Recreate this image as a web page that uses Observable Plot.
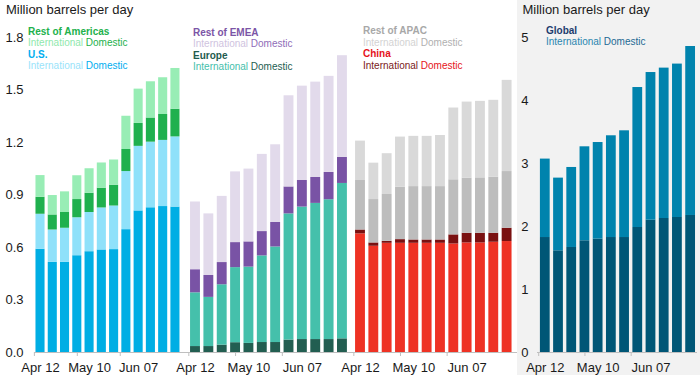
<!DOCTYPE html>
<html>
<head>
<meta charset="utf-8">
<script src="https://cdn.jsdelivr.net/npm/d3@7"></script>
<script src="https://cdn.jsdelivr.net/npm/@observablehq/plot@0.6"></script>
<style>
  body { margin: 0; background: #fff; }
  #chart { position: relative; width: 700px; height: 375px; overflow: hidden; background: #fff;
           font-family: "Liberation Sans", Arial, sans-serif; }
  .bg { position: absolute; left: 517px; top: 0; width: 183px; height: 375px; background: #f2f2f2; }
  .panel { position: absolute; top: 0; overflow: visible !important; }
  .ttl { position: absolute; font-size: 13px; line-height: 13px; color: #1a1a1a; white-space: nowrap; }
  .leg { position: absolute; font-size: 10px; line-height: 11.5px; white-space: nowrap; }
  .leg b { font-weight: bold; }
</style>
</head>
<body>
<div id="chart">
  <div class="bg"></div>
</div>
<script>
// ---- Data (million barrels per day) ----
const weekLabels = ["Apr 12","Apr 19","Apr 26","May 03","May 10","May 17","May 24","May 31","Jun 07","Jun 14","Jun 21","Jun 28"];
const labelIdx = [0, 4, 8];
const tickIdx = [-0.5, 3, 6.5];

const usDomestic       = [0.590,0.515,0.515,0.553,0.576,0.586,0.588,0.702,0.809,0.827,0.834,0.831];
const usIntl           = [0.200,0.185,0.195,0.217,0.224,0.240,0.249,0.332,0.369,0.375,0.378,0.401];
const restAmDomestic   = [0.097,0.086,0.090,0.104,0.110,0.113,0.119,0.126,0.131,0.138,0.148,0.158];
const restAmIntl       = [0.124,0.111,0.118,0.136,0.140,0.144,0.144,0.190,0.196,0.207,0.210,0.233];

const europeDomestic   = [0.034,0.034,0.042,0.056,0.052,0.057,0.057,0.071,0.074,0.074,0.074,0.078];
const europeIntl       = [0.307,0.281,0.345,0.429,0.436,0.495,0.546,0.721,0.757,0.778,0.799,0.888];
const restEmeaDomestic = [0.132,0.125,0.127,0.143,0.144,0.139,0.140,0.154,0.152,0.148,0.156,0.149];
const restEmeaIntl     = [0.387,0.352,0.378,0.404,0.416,0.441,0.444,0.521,0.539,0.545,0.549,0.581];

const chinaDomestic    = [0.678,0.607,0.624,0.624,0.624,0.624,0.624,0.620,0.626,0.626,0.630,0.634];
const chinaIntl        = [0.022,0.019,0.011,0.021,0.019,0.019,0.019,0.052,0.055,0.055,0.051,0.076];
const restApacDomestic = [0.283,0.248,0.268,0.299,0.305,0.305,0.305,0.315,0.315,0.317,0.321,0.324];
const restApacIntl     = [0.225,0.208,0.233,0.287,0.287,0.287,0.292,0.410,0.435,0.437,0.439,0.521];

const globalDomestic   = [1.825,1.614,1.667,1.773,1.800,1.825,1.825,1.984,2.100,2.127,2.143,2.175];
const globalIntl       = [1.245,1.154,1.270,1.492,1.533,1.615,1.694,2.222,2.344,2.387,2.435,2.682];

const yTicksLeft  = [0, 0.3, 0.6, 0.9, 1.2, 1.5, 1.8];
const yTicksRight = [0, 1, 2, 3, 4, 5];

// ---- helpers ----
const HW = 0.37;
function stackRows(series) {
  const rows = [];
  const n = series[0].values.length;
  for (let i = 0; i < n; i++) {
    let acc = 0;
    for (const s of series) {
      rows.push({i, series: s.name, y1: acc, y2: acc + s.values[i]});
      acc += s.values[i];
    }
  }
  return rows;
}

function makePanel(o) {
  const rows = stackRows(o.series);
  const marks = [
    Plot.rect(rows, {x1: d => d.i - HW, x2: d => d.i + HW, y1: "y1", y2: "y2", fill: "series"}),
    Plot.ruleY([0], {stroke: "#bfbfbf"}),
    Plot.axisX({ticks: tickIdx, tickSize: 4, tickFormat: () => "", stroke: "#bfbfbf", label: null}),
    Plot.axisX({ticks: labelIdx, tickSize: 0, tickPadding: 10, tickFormat: i => weekLabels[i], fontSize: 13, fill: "#1a1a1a", label: null})
  ];
  if (o.yTicks) {
    marks.push(Plot.axisY({ticks: o.yTicks, tickSize: 0, tickPadding: o.tickPad, tickFormat: o.yFmt,
                           fontSize: 13, fill: "#1a1a1a", label: null}));
  }
  const svg = Plot.plot({
    width: o.width, height: 375,
    marginTop: 37, marginBottom: 23, marginLeft: o.mL, marginRight: o.mR,
    style: {background: "transparent", fontFamily: "Liberation Sans, Arial, sans-serif", fontSize: "13px", color: "#1a1a1a", overflow: "visible"},
    x: {type: "linear", domain: o.xDomain},
    y: {domain: o.yDomain, axis: o.yTicks ? undefined : null},
    color: {domain: o.series.map(s => s.name), range: o.colors},
    marks
  });
  svg.classList.add("panel");
  svg.style.left = o.left + "px";
  svg.style.overflow = "visible";
  document.getElementById("chart").appendChild(svg);
}

makePanel({
  left: 0, width: 185, mL: 34, mR: 0.5, xDomain: [-0.49, 11.78], yDomain: [0, 1.8],
  yTicks: yTicksLeft, yFmt: d3.format(".1f"), tickPad: 11,
  series: [
    {name: "U.S. Domestic", values: usDomestic},
    {name: "U.S. International", values: usIntl},
    {name: "Rest of Americas Domestic", values: restAmDomestic},
    {name: "Rest of Americas International", values: restAmIntl}
  ],
  colors: ["#00aee4", "#8fe1fa", "#1fb04e", "#98edb5"]
});

makePanel({
  left: 184, width: 167, mL: 0, mR: 0, xDomain: [-0.823, 11.677], yDomain: [0, 1.8],
  series: [
    {name: "Europe Domestic", values: europeDomestic},
    {name: "Europe International", values: europeIntl},
    {name: "Rest of EMEA Domestic", values: restEmeaDomestic},
    {name: "Rest of EMEA International", values: restEmeaIntl}
  ],
  colors: ["#225e51", "#45c0ab", "#7953a5", "#e2daeb"]
});

makePanel({
  left: 351, width: 166, mL: 0, mR: 0, xDomain: [-0.675, 11.78], yDomain: [0, 1.8],
  series: [
    {name: "China Domestic", values: chinaDomestic},
    {name: "China International", values: chinaIntl},
    {name: "Rest of APAC Domestic", values: restApacDomestic},
    {name: "Rest of APAC International", values: restApacIntl}
  ],
  colors: ["#ee3224", "#7a1111", "#bdbdbd", "#d9d9d9"]
});

makePanel({
  left: 517, width: 183, mL: 20, mR: 3, xDomain: [-0.59, 11.52], yDomain: [0, 5],
  yTicks: yTicksRight, yFmt: d3.format("d"), tickPad: 9,
  series: [
    {name: "Global Domestic", values: globalDomestic},
    {name: "Global International", values: globalIntl}
  ],
  colors: ["#005676", "#0083ad"]
});

// ---- titles & legends ----
const chart = document.getElementById("chart");
function addHTML(cls, left, top, html) {
  const d = document.createElement("div");
  d.className = cls; d.style.left = left + "px"; d.style.top = top + "px";
  d.innerHTML = html; chart.appendChild(d);
}
addHTML("ttl", 6, 3, "Million barrels per day");
addHTML("ttl", 522.5, 2.5, "Million barrels per day");

addHTML("leg", 28, 25.8,
  '<b style="color:#22b14c">Rest of Americas</b><br>' +
  '<span style="color:#8fe8ac">International</span> <span style="color:#22b14c">Domestic</span><br>' +
  '<b style="color:#00aeef">U.S.</b><br>' +
  '<span style="color:#99e3fa">International</span> <span style="color:#00aeef">Domestic</span>');

addHTML("leg", 193, 26.8,
  '<b style="color:#7b55a6">Rest of EMEA</b><br>' +
  '<span style="color:#cfc3e0">International</span> <span style="color:#8f6db8">Domestic</span><br>' +
  '<b style="color:#1f5b4e">Europe</b><br>' +
  '<span style="color:#45c0ab">International</span> <span style="color:#235e52">Domestic</span>');

addHTML("leg", 363, 25.3,
  '<b style="color:#a8a8a8">Rest of APAC</b><br>' +
  '<span style="color:#d3d3d3">International</span> <span style="color:#b0b0b0">Domestic</span><br>' +
  '<b style="color:#e5141b">China</b><br>' +
  '<span style="color:#7a1a1a">International</span> <span style="color:#e5141b">Domestic</span>');

addHTML("leg", 546, 24.8,
  '<b style="color:#1d3c6e">Global</b><br>' +
  '<span style="color:#2a86b0">International</span> <span style="color:#1d6a94">Domestic</span>');
</script>
</body>
</html>
